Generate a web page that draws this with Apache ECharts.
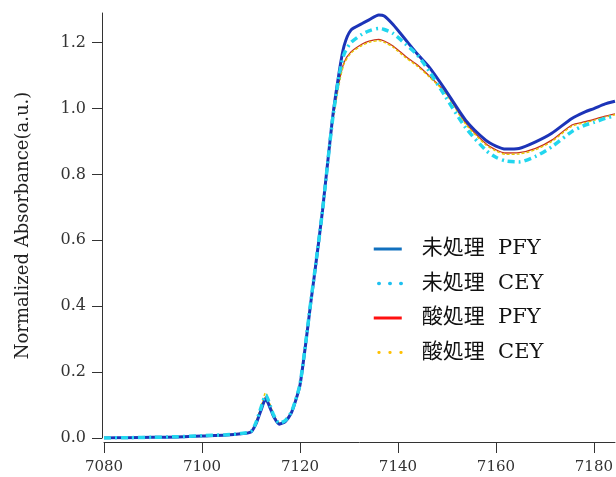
<!DOCTYPE html>
<html>
<head>
<meta charset="utf-8">
<script src="https://cdn.jsdelivr.net/npm/echarts@6/dist/echarts.min.js"></script>
<style>
html,body{margin:0;padding:0;background:#fff}
#main{width:616px;height:477px}
</style>
</head>
<body>
<div id="main"></div>
<script>
// energy (eV)
var energy = [7080,7085,7090,7095,7100,7105,7108,7110,7111,7112,7113,7114,7114.6,7115.8,7117,7118.2,7119,7120,7121.2,7122.2,7123,7124.6,7126.6,7128,7129,7130.4,7132.7,7134.1,7136.1,7137.2,7139,7141.6,7144,7146.3,7149.7,7153.8,7157.9,7160,7162,7164.7,7168.1,7171.4,7175.5,7178.2,7180,7182.3,7184.3]

// 未処理 PFY
var rawPFY = [0.000,0.001,0.002,0.003,0.006,0.009,0.013,0.018,0.042,0.082,0.118,0.088,0.066,0.042,0.050,0.075,0.108,0.160,0.290,0.410,0.500,0.690,0.965,1.110,1.190,1.238,1.258,1.269,1.284,1.281,1.255,1.208,1.165,1.127,1.056,0.965,0.904,0.886,0.877,0.879,0.899,0.925,0.970,0.990,1.000,1.014,1.022]
// 未処理 CEY
var rawCEY = [0.000,0.001,0.002,0.004,0.007,0.010,0.014,0.020,0.046,0.090,0.130,0.095,0.070,0.045,0.053,0.078,0.110,0.163,0.293,0.413,0.503,0.690,0.960,1.100,1.165,1.200,1.226,1.236,1.243,1.240,1.228,1.195,1.162,1.115,1.036,0.942,0.874,0.852,0.841,0.838,0.855,0.884,0.930,0.950,0.958,0.970,0.978]
// 酸処理 PFY
var acidPFY = [0.000,0.001,0.002,0.003,0.006,0.009,0.013,0.019,0.044,0.086,0.125,0.092,0.068,0.043,0.051,0.076,0.109,0.162,0.292,0.412,0.502,0.690,0.955,1.080,1.140,1.172,1.196,1.205,1.210,1.205,1.190,1.158,1.132,1.100,1.050,0.957,0.894,0.875,0.865,0.866,0.879,0.904,0.950,0.960,0.967,0.977,0.984]
// 酸処理 CEY
var acidCEY = [0.000,0.001,0.003,0.004,0.007,0.010,0.015,0.021,0.048,0.094,0.137,0.098,0.072,0.046,0.054,0.079,0.112,0.166,0.296,0.416,0.505,0.692,0.950,1.075,1.135,1.168,1.192,1.201,1.206,1.201,1.186,1.154,1.128,1.097,1.047,0.953,0.890,0.871,0.861,0.862,0.875,0.900,0.946,0.957,0.964,0.974,0.981]

var names = ['未処理  PFY','未処理  CEY','酸処理  PFY','酸処理  CEY']
var xTicks = [7080,7100,7120,7140,7160,7180]
var yTicks = [0,0.2,0.4,0.6,0.8,1.0,1.2]

var font = "'DejaVu Serif','Noto Sans CJK JP',serif"

function pairs(ys){
  return energy.map(function(x,i){ return [x, ys[i]] })
}

var chart = echarts.init(document.getElementById('main'))
chart.setOption({
  animation:false,
  textStyle:{fontFamily:font},
  grid:{left:104,right:0,top:13,bottom:39},
  legend:{
    orient:'vertical',
    left:367,
    top:232,
    itemWidth:28,
    itemHeight:14,
    itemGap:10.5,
    itemStyle:{opacity:0},
    textStyle:{fontFamily:font,fontSize:21,lineHeight:24,color:'#111',padding:[0,0,0,15]},
    data:[
      {name:names[0],lineStyle:{color:'#1170be',width:3}},
      {name:names[1],lineStyle:{color:'#1ec0f0',width:3.5,type:[0.5,10.5],dashOffset:-5,cap:'round'}},
      {name:names[2],lineStyle:{color:'#ff1010',width:3}},
      {name:names[3],lineStyle:{color:'#ffc000',width:2.8,type:[0.5,10.5],dashOffset:-5,cap:'round'}}
    ]
  },
  xAxis:{
    type:'value',
    min:7080,
    max:7184.3,
    offset:4,
    axisLine:{onZero:false,lineStyle:{color:'#333',width:1}},
    axisTick:{length:11,lineStyle:{color:'#333'},customValues:xTicks},
    axisLabel:{margin:18,fontSize:15,color:'#333',fontFamily:font,customValues:xTicks,
      formatter:function(v){ return String(v) }},
    splitLine:{show:false}
  },
  yAxis:{
    type:'value',
    min:0,
    max:1.29,
    offset:2,
    name:'Normalized Absorbance(a.u.)',
    nameLocation:'middle',
    nameGap:70,
    nameTextStyle:{fontFamily:font,fontSize:18,color:'#222'},
    axisLine:{show:true,lineStyle:{color:'#333',width:1}},
    axisTick:{show:true,length:10,lineStyle:{color:'#333'},customValues:yTicks},
    axisLabel:{margin:16,fontSize:16,color:'#333',fontFamily:font,customValues:yTicks,
      formatter:function(v){ return v.toFixed(1) }},
    splitLine:{show:false}
  },
  series:[
    {name:names[2],type:'line',symbol:'none',smooth:0.25,data:pairs(acidPFY),
      lineStyle:{color:'#c8321e',width:1.3}, itemStyle:{color:'#ff1010'}},
    {name:names[3],type:'line',symbol:'none',smooth:0.25,data:pairs(acidCEY),
      lineStyle:{color:'#e8c800',width:1.4,type:[3,2]}, itemStyle:{color:'#ffc000'}},
    {name:names[0],type:'line',symbol:'none',smooth:0.25,data:pairs(rawPFY),
      lineStyle:{color:'#1c34b8',width:3}, itemStyle:{color:'#1170be'}},
    {name:names[1],type:'line',symbol:'none',smooth:0.25,data:pairs(rawCEY),
      lineStyle:{color:'#22d6ee',width:3.5,type:[7,4,2,4]}, itemStyle:{color:'#1ec0f0'}}
  ]
})
</script>
</body>
</html>
